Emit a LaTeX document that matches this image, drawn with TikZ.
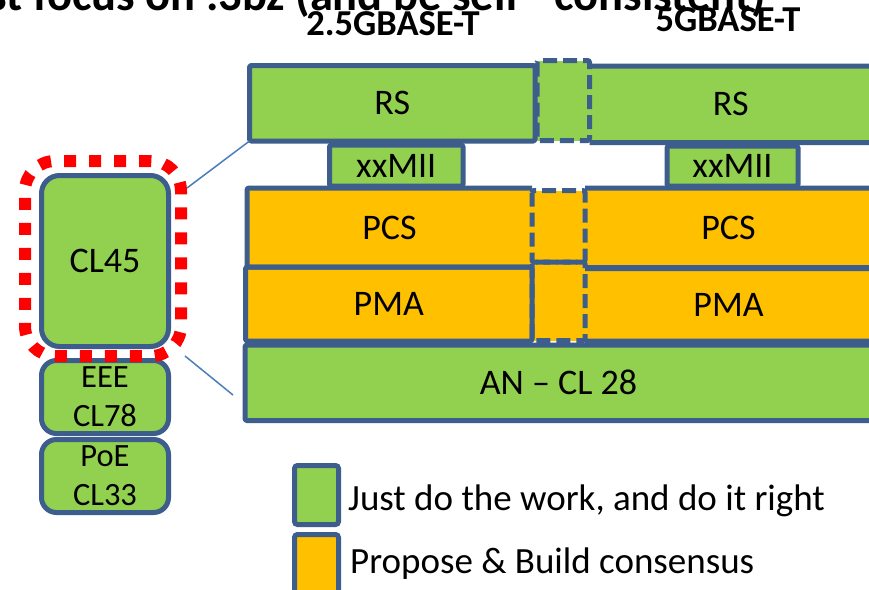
\documentclass[tikz,border=0pt]{standalone}
\usepackage{fontspec}
\setmainfont{Carlito}
\definecolor{grn}{HTML}{92D050}
\definecolor{org}{HTML}{FFC000}
\definecolor{bdc}{RGB}{61,94,140}
\definecolor{lnc}{RGB}{74,126,187}
\newcommand{\boxfont}{\fontsize{36}{40}\selectfont}
\newcommand{\smallboxfont}{\fontsize{32.5}{39}\selectfont}
\newcommand{\legfont}{\fontsize{37}{42}\selectfont}
\newcommand{\hdrfont}{\fontsize{36.5}{40}\selectfont\bfseries}
\newcommand{\ttlfont}{\fontsize{46.5}{50}\selectfont\bfseries}
\begin{document}
\begin{tikzpicture}[x=1pt,y=-1pt,
  lay/.style={inner sep=0pt, outer sep=0pt, anchor=north west, font=\boxfont},
  bd/.style={draw=bdc, line width=5pt, rounded corners=1.5pt, line join=round},
  dsh/.style={draw=bdc, line width=5pt, dash pattern=on 14pt off 6pt, rounded corners=2pt},
  lbox/.style={draw=bdc, line width=5pt, fill=grn, inner sep=0pt, minimum width=127pt, align=center},
  lnk/.style={draw=lnc, line width=1.5pt}]
\useasboundingbox (0,0) rectangle (869,589);
\clip (0,0) rectangle (869,589);
\fill[white] (0,0) rectangle (869,589);

% title (cut at the top) and headers
\node[font=\ttlfont, anchor=base east, inner sep=0pt] (ttl) at (766,10) {Just focus on .3bz (and be self-\ \ consistent)};
\node[font=\hdrfont, anchor=base, inner sep=0pt] (h1) at (393,35) {2.5GBASE-T};
\node[font=\hdrfont, anchor=base, inner sep=0pt] (h2) at (728,31) {5GBASE-T};

% fills of the dashed middle boxes
\node[lay, fill=grn, minimum width=52.5pt, minimum height=80pt] (rsD) at (537,60.5) {};
\node[lay, fill=org, minimum width=53pt, minimum height=71.5pt] (pcsD) at (532,190.5) {};
\node[lay, fill=org, minimum width=53pt, minimum height=78.5pt] (pmaD) at (532,262) {};

% layer boxes (fills and labels)
\node[lay, fill=grn, minimum width=285.5pt, minimum height=75.5pt] (rsL) at (249.5,65.5) {RS};
\node[lay, fill=grn, minimum width=282.5pt, minimum height=76.5pt] (rsR) at (589.5,66) {RS};
\node[lay, fill=grn, minimum width=133.5pt, minimum height=41pt] (xxL) at (329.5,145) {xxMII};
\node[lay, fill=grn, minimum width=131pt, minimum height=40pt] (xxR) at (667,146) {xxMII};
\node[lay, fill=org, minimum width=285pt, minimum height=79pt] (pcsL) at (247,188) {PCS};
\node[lay, fill=org, minimum width=287pt, minimum height=79.5pt] (pcsR) at (585,188) {PCS};
\node[lay, fill=org, minimum width=286.5pt, minimum height=74pt] (pmaL) at (245.5,267) {PMA};
\node[lay, fill=org, minimum width=287pt, minimum height=72.5pt] (pmaR) at (585,268.5) {PMA};
\node[lay, fill=grn, minimum width=627pt, minimum height=75.5pt] (an) at (245,345) {AN -- CL 28};

% solid borders
\draw[bd] (rsL.north west) rectangle (rsL.south east);
\draw[bd] (rsR.north west) -- (rsR.north east) -- (rsR.south east) -- (rsR.south west);
\draw[bd] (xxL.north west) rectangle (xxL.south east);
\draw[bd] (xxR.north west) rectangle (xxR.south east);
\draw[bd] (pcsL.north east) -- (pcsL.north west) -- (pcsL.south west) -- (pcsL.south east);
\draw[bd] (pcsR.north west) -- (pcsR.north east) -- (pcsR.south east) -- (pcsR.south west);
\draw[bd] (pmaL.north west) rectangle (pmaL.south east);
\draw[bd] (pmaR.north west) -- (pmaR.north east) -- (pmaR.south east) -- (pmaR.south west);
\draw[bd] (an.north west) rectangle (an.south east);

% dashed borders
\draw[dsh] (rsD.north west) rectangle (rsD.south east);
\draw[dsh] (pcsD.north west) rectangle (pcsD.south east);
\draw[dsh] (pmaD.north west) rectangle (pmaD.south east);

% left column
\node[lbox, rounded corners=18pt, minimum height=171pt, font=\boxfont] (cl45) at (105,261) {CL45};
\node[lbox, rounded corners=15pt, minimum height=73pt, font=\smallboxfont] (eee) at (105,397) {EEE\\CL78};
\node[lbox, rounded corners=15pt, minimum height=73pt, font=\smallboxfont] (poe) at (105,476) {PoE\\CL33};
\node[draw=red, line width=12pt, dash pattern=on 12pt off 13pt, rounded corners=30pt,
      minimum width=156pt, minimum height=195pt, inner sep=0pt] (hl) at (103,258.5) {};

% zoom lines
\coordinate (z1) at (187,188);
\coordinate (z2) at (185,356);
\coordinate (z3) at (233,395);
\draw[lnk] (z1) -- (rsL.south west);
\draw[lnk] (z2) -- (z3);

% legend
\node[draw=bdc, line width=5pt, fill=grn, rounded corners=3pt, minimum width=44pt, minimum height=59pt, inner sep=0pt] (lg1) at (316.5,495) {};
\node[draw=bdc, line width=5pt, fill=org, rounded corners=3pt, minimum width=44pt, minimum height=65pt, inner sep=0pt] (lg2) at (316.5,567) {};
\node[font=\legfont, anchor=base west, inner sep=0pt] (t1) at (348,510) {Just do the work, and do it right};
\node[font=\legfont, anchor=base west, inner sep=0pt] (t2) at (350,573) {Propose \& Build consensus};
\end{tikzpicture}
\end{document}
